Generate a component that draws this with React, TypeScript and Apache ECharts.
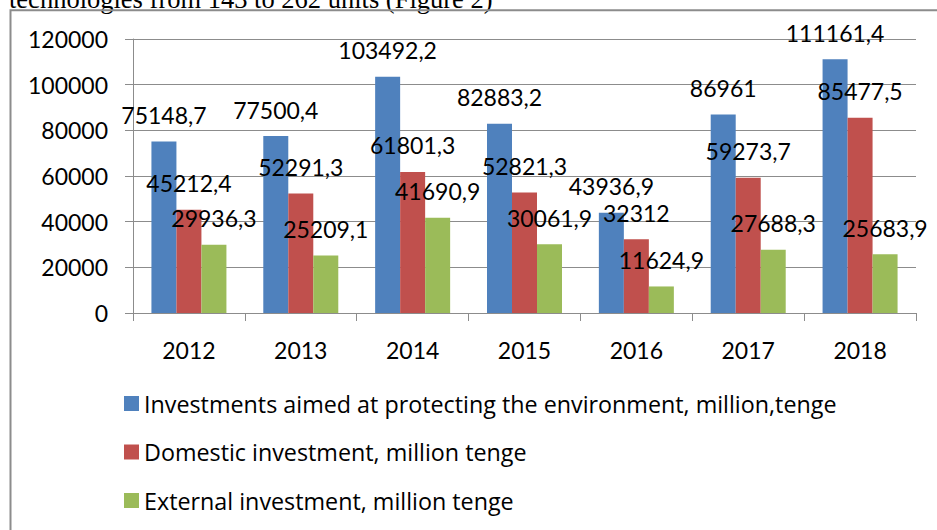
import React, { useEffect, useRef } from "react";
import * as echarts from "echarts";

const years = ["2012", "2013", "2014", "2015", "2016", "2017", "2018"];
const envInvest = [75148.7, 77500.4, 103492.2, 82883.2, 43936.9, 86961, 111161.4];
const domesticInvest = [45212.4, 52291.3, 61801.3, 52821.3, 32312, 59273.7, 85477.5];
const externalInvest = [29936.3, 25209.1, 41690.9, 30061.9, 11624.9, 27688.3, 25683.9];
const seriesNames = [
  "Investments aimed at protecting the environment, million,tenge",
  "Domestic investment, million tenge",
  "External investment, million tenge",
];
const colors = ["#4F81BD", "#C0504D", "#9BBB59"];
const captionText = "technologies from 143 to 262 units (Figure 2)";

const FONT = "Lato";
const fmt = (v: number) => String(v).replace(".", ",");

export default function App() {
  const ref = useRef<HTMLDivElement>(null);
  useEffect(() => {
    if (!ref.current) return;
    const chart = echarts.init(ref.current, undefined, { renderer: "svg" });
    const datasets = [envInvest, domesticInvest, externalInvest];
    chart.setOption({
      animation: false,
      backgroundColor: "#ffffff",
      textStyle: { fontFamily: FONT },
      graphic: [
        {
          type: "text",
          left: 9,
          top: -15,
          style: {
            text: captionText,
            font: '26.5px "Liberation Serif", "Times New Roman", serif',
            fill: "#000",
          },
          z: 1,
        },
        {
          type: "rect",
          shape: { x: 10.5, y: 10.3, width: 1200, height: 1200 },
          style: { fill: "none", stroke: "#8c8c8c", lineWidth: 2 },
          z: 2,
        },
      ],
      grid: { left: 133, top: 39, right: 21, bottom: 217, containLabel: false },
      legend: {
        orient: "vertical",
        left: 124,
        top: 392,
        padding: 0,
        itemWidth: 15,
        itemHeight: 15,
        itemGap: 25.5,
        icon: "rect",
        textStyle: { fontFamily: "Open Sans", fontSize: 23.3, lineHeight: 22, color: "#000" },
        data: seriesNames,
      },
      xAxis: {
        type: "category",
        data: years,
        axisLine: { lineStyle: { color: "#8c8c8c", width: 1 } },
        axisTick: { show: true, length: 8, lineStyle: { color: "#8c8c8c" } },
        axisLabel: { fontFamily: FONT, fontSize: 23, color: "#000", margin: 25 },
      },
      yAxis: {
        type: "value",
        min: 0,
        max: 120000,
        interval: 20000,
        axisLine: { show: true, lineStyle: { color: "#8c8c8c", width: 1 } },
        axisTick: { show: true, length: 8, lineStyle: { color: "#8c8c8c" } },
        axisLabel: {
          fontFamily: FONT,
          fontSize: 23,
          color: "#000",
          margin: 25,
          formatter: (v: number) => String(v),
        },
        splitLine: { show: true, lineStyle: { color: "#8c8c8c", width: 1 } },
      },
      series: datasets.map((d, i) => ({
        name: seriesNames[i],
        type: "bar",
        data: d,
        barWidth: 25,
        barGap: "0%",
        itemStyle: { color: colors[i] },
        label: {
          show: true,
          position: "top",
          distance: 15,
          fontFamily: FONT,
          fontSize: 23,
          color: "#000",
          formatter: (p: any) => fmt(p.value),
        },
      })),
    });
    return () => chart.dispose();
  }, []);
  return (
    <div
      ref={ref}
      style={{ position: "fixed", left: 0, top: 0, width: 937, height: 530 }}
    />
  );
}
